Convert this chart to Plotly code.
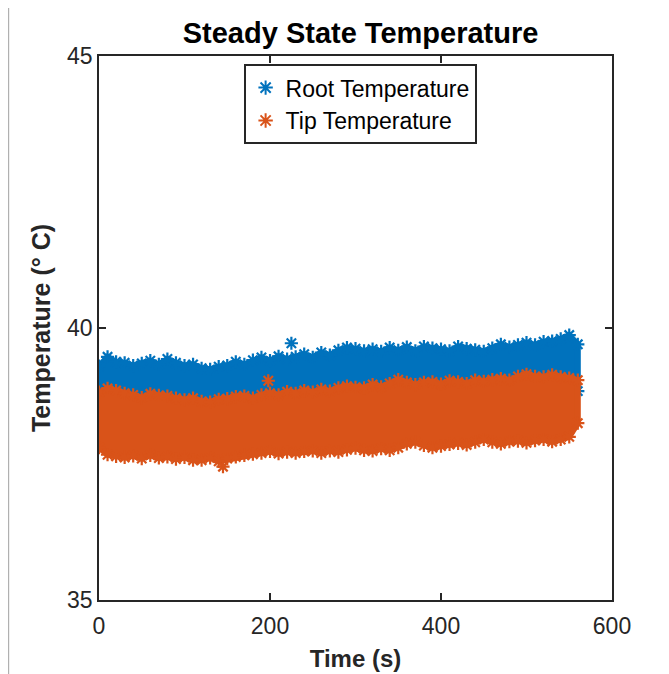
import plotly.graph_objects as go

# envelope of the two dense marker clouds, every 10 s
time_s = [0, 10, 20, 30, 40, 50, 60, 70, 80, 90, 100, 110, 120, 130, 140, 150,
          160, 170, 180, 190, 200, 210, 220, 230, 240, 250, 260, 270, 280, 290,
          300, 310, 320, 330, 340, 350, 360, 370, 380, 390, 400, 410, 420, 430,
          440, 450, 460, 470, 480, 490, 500, 510, 520, 530, 540, 550, 560]

root_hi = [39.30, 39.47, 39.38, 39.36, 39.31, 39.35, 39.40, 39.33, 39.43, 39.36,
           39.31, 39.33, 39.26, 39.24, 39.29, 39.31, 39.38, 39.33, 39.41, 39.46,
           39.40, 39.48, 39.43, 39.47, 39.52, 39.46, 39.55, 39.50, 39.59, 39.64,
           39.62, 39.58, 39.61, 39.57, 39.64, 39.59, 39.65, 39.58, 39.66, 39.63,
           39.61, 39.58, 39.66, 39.62, 39.60, 39.57, 39.63, 39.70, 39.65, 39.69,
           39.73, 39.69, 39.75, 39.76, 39.80, 39.87, 39.70]
root_lo = [38.62, 38.66, 38.64, 38.60, 38.56, 38.53, 38.58, 38.57, 38.54, 38.52,
           38.48, 38.50, 38.46, 38.44, 38.48, 38.50, 38.53, 38.55, 38.52, 38.56,
           38.60, 38.58, 38.62, 38.60, 38.64, 38.63, 38.66, 38.64, 38.70, 38.72,
           38.72, 38.70, 38.75, 38.73, 38.78, 38.84, 38.80, 38.77, 38.79, 38.80,
           38.78, 38.82, 38.81, 38.79, 38.83, 38.82, 38.84, 38.86, 38.85, 38.90,
           38.94, 38.92, 38.90, 38.93, 38.90, 38.88, 38.84]

tip_hi = [38.82, 38.89, 38.85, 38.80, 38.77, 38.72, 38.79, 38.76, 38.75, 38.71,
          38.68, 38.71, 38.65, 38.64, 38.69, 38.70, 38.74, 38.75, 38.71, 38.77,
          38.80, 38.77, 38.83, 38.80, 38.85, 38.82, 38.87, 38.84, 38.90, 38.93,
          38.91, 38.90, 38.96, 38.92, 38.98, 39.05, 39.00, 38.96, 39.00, 39.01,
          38.97, 39.03, 39.01, 38.98, 39.04, 39.02, 39.05, 39.07, 39.04, 39.11,
          39.15, 39.11, 39.10, 39.14, 39.10, 39.08, 39.04]
tip_lo = [37.80, 37.67, 37.64, 37.62, 37.65, 37.60, 37.66, 37.61, 37.63, 37.59,
          37.62, 37.57, 37.57, 37.61, 37.55, 37.60, 37.63, 37.66, 37.68, 37.70,
          37.73, 37.69, 37.72, 37.70, 37.73, 37.74, 37.70, 37.74, 37.72, 37.76,
          37.79, 37.75, 37.74, 37.78, 37.75, 37.80, 37.87, 37.90, 37.84, 37.80,
          37.83, 37.86, 37.88, 37.85, 37.90, 37.95, 37.90, 37.87, 37.91, 37.92,
          37.89, 37.93, 37.95, 37.91, 37.95, 38.00, 38.25]

# single stray points sticking out of the clouds
root_out_t = [225]
root_out_v = [39.72]
tip_out_t = [198, 145]
tip_out_v = [39.03, 37.45]

BLUE = "#0072BD"
ORANGE = "#D95319"
FONT = "Arial, Liberation Sans, sans-serif"


def star(color):
    return dict(symbol="asterisk-open", size=11, color=color,
                line=dict(color=color, width=2.2))


def band(hi, lo, color, name, out_t, out_v):
    traces = [
        go.Scatter(x=time_s + time_s[::-1], y=hi + lo[::-1], fill="toself",
                   fillcolor=color, mode="lines", line=dict(color=color, width=6),
                   hoverinfo="skip", showlegend=False, legendgroup=name),
        go.Scatter(x=time_s, y=hi, mode="markers", marker=star(color),
                   name=name, legendgroup=name),
        go.Scatter(x=time_s, y=lo, mode="markers", marker=star(color),
                   showlegend=False, legendgroup=name),
        go.Scatter(x=out_t, y=out_v, mode="markers", marker=star(color),
                   showlegend=False, legendgroup=name),
    ]
    return traces


fig = go.Figure()
for tr in band(root_hi, root_lo, BLUE, "Root Temperature", root_out_t, root_out_v):
    fig.add_trace(tr)
for tr in band(tip_hi, tip_lo, ORANGE, "Tip Temperature", tip_out_t, tip_out_v):
    fig.add_trace(tr)

axis_common = dict(showline=True, linecolor="#262626", linewidth=1.5, mirror="allticks",
                   ticks="inside", ticklen=7, tickwidth=1.5, tickcolor="#262626",
                   showgrid=False, zeroline=False,
                   tickfont=dict(family=FONT, size=23, color="#262626"))

# the page body adds 8 px on the left and top, margins take that into account
fig.update_layout(
    width=669, height=674,
    margin=dict(l=91, r=65, t=48, b=82),
    paper_bgcolor="white", plot_bgcolor="white",
    font=dict(family=FONT, color="#262626"),
    title=dict(text="<b>Steady State Temperature</b>", x=0.527, xanchor="center",
               y=0.963, yanchor="middle", yref="container",
               font=dict(family=FONT, size=29, color="black")),
    xaxis=dict(range=[0, 600], tickvals=[0, 200, 400, 600], ticklabelstandoff=5,
               title=dict(text="<b>Time (s)</b>", standoff=12,
                          font=dict(family=FONT, size=24, color="#262626")),
               **axis_common),
    yaxis=dict(range=[35, 45], tickvals=[35, 40, 45],
               title=dict(text="<b>Temperature (° C)</b>", standoff=9,
                          font=dict(family=FONT, size=25, color="#262626")),
               **axis_common),
    legend=dict(x=0.509, y=0.985, xanchor="center", yanchor="top",
                bgcolor="white", bordercolor="#262626", borderwidth=2,
                font=dict(family=FONT, size=23, color="black"),
                itemsizing="constant", tracegroupgap=0),
    showlegend=True,
)

# grey edge line at the far left of the screenshot
fig.add_shape(type="line", xref="paper", yref="paper", x0=-0.177, x1=-0.177,
              y0=-0.16, y1=1.09, line=dict(color="#b0b0b0", width=2))

fig.write_html("out.html")
